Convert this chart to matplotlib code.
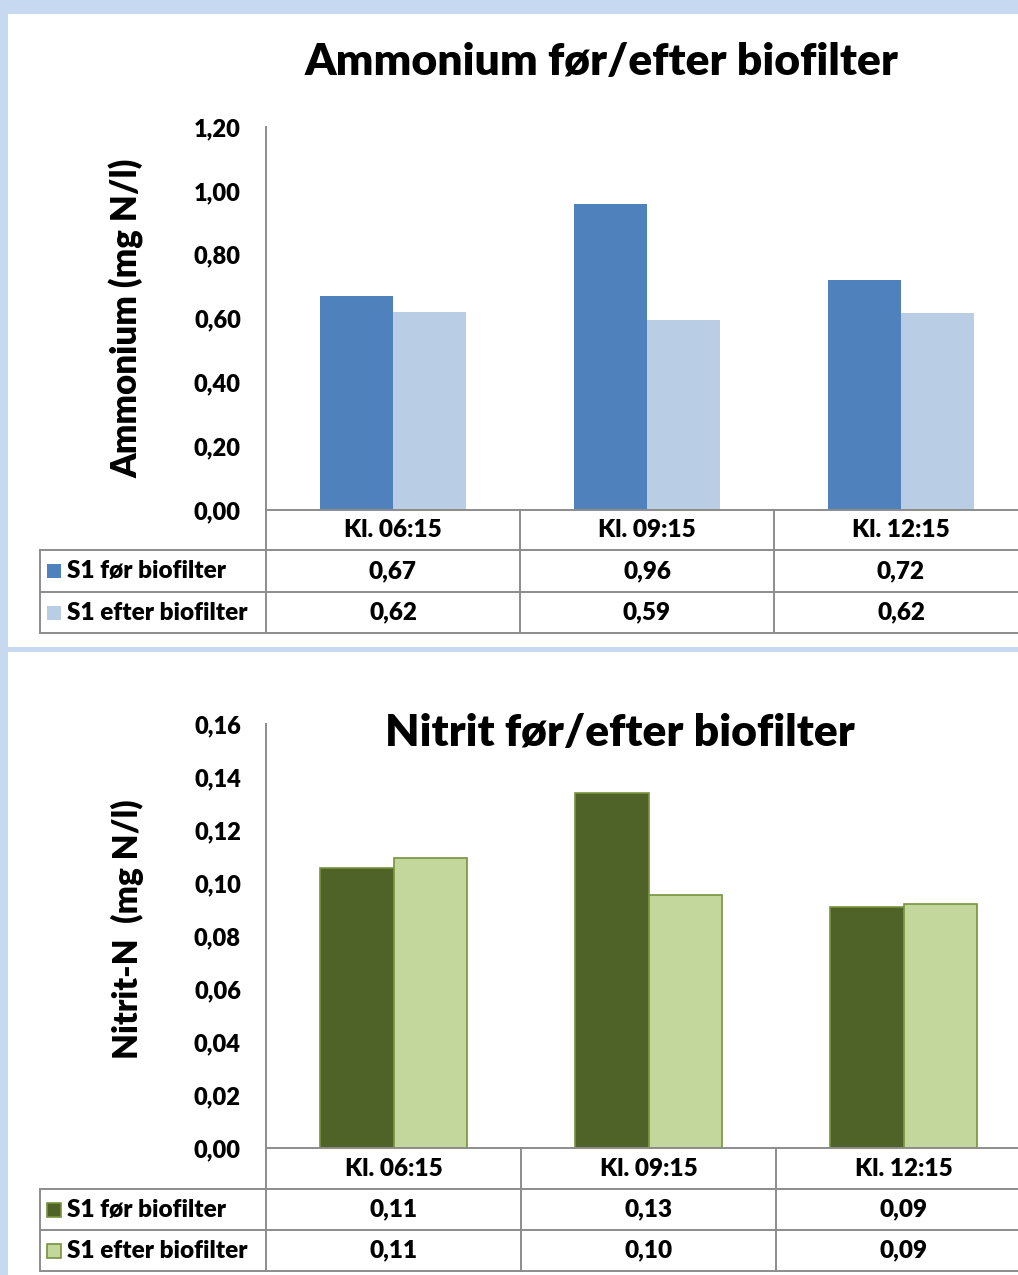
import matplotlib
matplotlib.use("Agg")
import matplotlib.pyplot as plt
import matplotlib.transforms as mtransforms
from matplotlib.patches import Rectangle
from matplotlib.lines import Line2D
from matplotlib.ticker import MultipleLocator, FuncFormatter
import numpy as np

plt.rcParams['font.family'] = ['Lato', 'DejaVu Sans']
plt.rcParams['font.weight'] = 'heavy'

W, H = 1018, 1275

# --------------------
# DATA
# --------------------
times = ["Kl. 06:15", "Kl. 09:15", "Kl. 12:15"]
series_names = ["S1 før biofilter", "S1 efter biofilter"]

ammonium_foer = [0.67, 0.96, 0.72]
ammonium_efter = [0.62, 0.595, 0.617]

nitrit_foer = [0.1055, 0.134, 0.091]
nitrit_efter = [0.1095, 0.0955, 0.092]

BG = "#C6D9F1"
GRID = "#8C8C8C"
FS_TICK = 17
FS_TAB = 17.5

fig = plt.figure(figsize=(W / 100, H / 100), dpi=100)
fig.patch.set_facecolor(BG)


def fx(x):
    return x / W


def fy(y):
    return 1 - y / H


def comma(v, pos=None):
    return f"{v:.2f}".replace(".", ",")


# white panels
fig.add_artist(Rectangle((fx(8), fy(647)), fx(1018 - 8), (647 - 14) / H,
                         transform=fig.transFigure, facecolor="white", edgecolor="none", zorder=0))
fig.add_artist(Rectangle((fx(8), fy(1275)), fx(1018 - 8), (1275 - 652) / H,
                         transform=fig.transFigure, facecolor="white", edgecolor="none", zorder=0))


def draw_chart(ax_top, ax_bottom, colw, foer, efter, c_foer, c_efter, edge,
               ymax, step, ylabel, ylabel_fs, ylabel_y, title, title_xy, rows):
    left = 266
    ax = fig.add_axes([fx(left), fy(ax_bottom), fx(3 * colw), (ax_bottom - ax_top) / H])
    ax.set_facecolor("none")
    x = np.arange(len(times))
    w = 0.287
    lw = 1.2 if edge else 0
    ax.bar(x - w / 2, foer, w, color=c_foer, edgecolor=edge or c_foer, linewidth=lw, zorder=2)
    ax.bar(x + w / 2, efter, w, color=c_efter, edgecolor=edge or c_efter, linewidth=lw, zorder=2)
    ax.set_xlim(-0.5, len(times) - 0.5)
    ax.set_ylim(0, ymax)
    ax.yaxis.set_major_locator(MultipleLocator(step))
    ax.yaxis.set_major_formatter(FuncFormatter(comma))
    ax.set_xticks([])
    ax.tick_params(axis="y", length=0, pad=18, labelsize=FS_TICK)
    for s in ["top", "right", "bottom"]:
        ax.spines[s].set_visible(False)
    ax.spines["left"].set_color(GRID)
    ax.spines["left"].set_linewidth(1.4)

    fig.text(fx(127), fy(ylabel_y), ylabel, rotation=90, ha="center", va="center", fontsize=ylabel_fs)
    fig.text(fx(title_xy[0]), fy(title_xy[1]), title, ha="center", va="center", fontsize=32)

    # data table below the axis
    tr = mtransforms.blended_transform_factory(ax.transData, fig.transFigure)
    h0, h1, h2, h3 = rows
    xr = len(times) - 0.5 + 0.1
    line_kw = dict(color=GRID, linewidth=1.4, clip_on=False)
    for yy in (h0, h1, h2, h3):
        ax.add_line(Line2D([-0.5, xr], [fy(yy), fy(yy)], transform=tr, **line_kw))
    for i in range(len(times) + 1):
        ax.add_line(Line2D([i - 0.5, i - 0.5], [fy(h0), fy(h3)], transform=tr, **line_kw))
    for yy in (h1, h2, h3):
        fig.add_artist(Line2D([fx(40), fx(left)], [fy(yy), fy(yy)], transform=fig.transFigure,
                              color=GRID, linewidth=1.4))
    fig.add_artist(Line2D([fx(40), fx(40)], [fy(h1), fy(h3)], transform=fig.transFigure,
                          color=GRID, linewidth=1.4))

    for i, t in enumerate(times):
        ax.text(i, fy((h0 + h1) / 2), t, transform=tr, ha="center", va="center", fontsize=FS_TAB)
        ax.text(i, fy((h1 + h2) / 2), comma(foer[i]), transform=tr, ha="center", va="center", fontsize=FS_TAB)
        ax.text(i, fy((h2 + h3) / 2), comma(efter[i]), transform=tr, ha="center", va="center", fontsize=FS_TAB)

    for (ya, yb), name, col in (((h1, h2), series_names[0], c_foer), ((h2, h3), series_names[1], c_efter)):
        yc = (ya + yb) / 2
        fig.add_artist(Rectangle((fx(47), fy(yc + 7)), fx(14), 14 / H, transform=fig.transFigure,
                                 facecolor=col, edgecolor=edge or col, linewidth=lw))
        fig.text(fx(67), fy(yc), name, ha="left", va="center", fontsize=FS_TAB)
    return ax


# --------------------
# AMMONIUM
# --------------------
draw_chart(127, 510, 254, ammonium_foer, ammonium_efter, "#4F81BD", "#B9CDE5", None,
           1.2, 0.2, "Ammonium (mg N/l)", 25, 318, "Ammonium før/efter biofilter", (602, 62),
           (510, 550, 592, 633))

# --------------------
# NITRIT
# --------------------
draw_chart(724, 1148, 255, nitrit_foer, nitrit_efter, "#4F6228", "#C3D69B", "#77933C",
           0.16, 0.02, "Nitrit-N  (mg N/l)", 24, 929, "Nitrit før/efter biofilter", (620, 733),
           (1148, 1189, 1230, 1271))

fig.savefig("out.png", dpi=100, facecolor=BG)
